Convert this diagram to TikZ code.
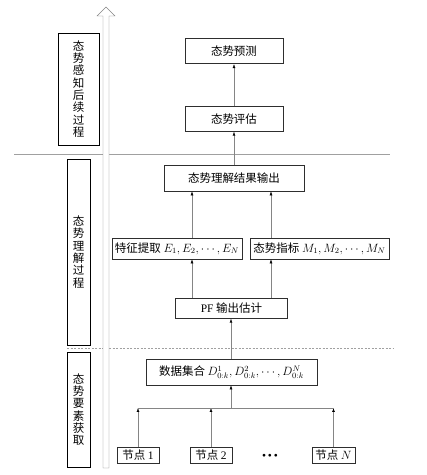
\documentclass[tikz,border=0pt]{standalone}
\usepackage{fontspec}
\setmainfont{Liberation Serif}
\newfontfamily\zhfont{Noto Sans CJK SC}
\usetikzlibrary{arrows.meta,positioning}
\definecolor{wire}{HTML}{858585}
\definecolor{frame}{HTML}{2E2E2E}
\definecolor{rule}{HTML}{A0A0A0}

\begin{document}
\begin{tikzpicture}[
  x=1pt, y=1pt,
  node distance=40pt,
  box/.style={draw=frame, semithick, align=center, inner sep=1pt,
              minimum height=25pt, font=\zhfont\fontsize{11.5}{12.3}\selectfont},
  tag/.style={box, draw=black, text width=12pt, minimum width=23pt},
  arr/.style={-{Latex[length=4pt,width=2.8pt,color=black]}, draw=wire},
  sep/.style={draw=rule, thin}
]
\useasboundingbox (0,0) rectangle (427,475);

% stage labels on the left
\node[tag, minimum width=41pt, minimum height=112pt] (after) at (78.5,386)
  {态\\势\\感\\知\\后\\续\\过\\程};
\node[tag, minimum height=186pt] (grasp) at (78.5,223)
  {态\\势\\理\\解\\过\\程};
\node[tag, minimum height=115pt] (gather) at (78.5,65.5)
  {态\\势\\要\\素\\获\\取};

% separators and the upward arrow
\draw[sep] (14,321) -- (390,321);
\draw[sep, dash pattern=on 2pt off 1.5pt] (67,127) -- (393,127);
\draw[wire, fill=white] (103,7) -- (103,459) -- (97,459) -- (106,468)
  -- (115,459) -- (109,459) -- (109,7) -- cycle;

% main column
\node[box, minimum width=171pt, minimum height=26pt] (data) at (231.5,103)
  {数据集合 $D^1_{0:k}, D^2_{0:k}, \cdots, D^N_{0:k}$};
\node[box, minimum width=112pt, minimum height=20pt, above=40pt of data] (pf)
  {{\rmfamily PF} 输出估计};
\node[box, minimum width=130pt, minimum height=21pt] (feat) at (177,226.5)
  {特征提取 $E_1, E_2, \cdots, E_N$};
\node[box, minimum width=139pt, minimum height=21pt] (index) at (319.5,226.5)
  {态势指标 $M_1, M_2, \cdots, M_N$};
\node[box, minimum width=140pt, minimum height=26pt] (result) at (234,297)
  {态势理解结果输出};
\node[box, minimum width=98pt, above=33pt of result] (eval) {态势评估};
\node[box, minimum width=98pt, above=42pt of eval] (pred) {态势预测};

% sensor nodes
\node[box, minimum width=42pt, minimum height=16pt] (n1) at (138,20) {节点 {\rmfamily 1}};
\node[box, minimum width=42pt, minimum height=16pt] (n2) at (211,20) {节点 {\rmfamily 2}};
\node[font=\fontsize{11.5}{12}\selectfont] (dots) at (270,18)
  {\textbullet\,\textbullet\,\textbullet};
\node[box, minimum width=43pt, minimum height=16pt] (nN) at (333.5,20) {节点 $N$};

% connectors
\coordinate (lane1) at (192,0);
\coordinate (lane2) at (271,0);
\coordinate (bus) at (231,67);
\foreach \n in {n1,n2,nN}
  \draw[arr] (\n.north) -- (\n.north |- bus);
\draw[wire] (n1.north |- bus) -- (nN.north |- bus);
\draw[arr] (bus) -- (data.south -| bus);
\draw[arr] (data.north -| bus) -- (pf.south -| bus);
\draw[arr] (pf.north -| lane1) -- (feat.south -| lane1);
\draw[arr] (pf.north -| lane2) -- (index.south -| lane2);
\draw[arr] (feat.north -| lane1) -- (result.south -| lane1);
\draw[arr] (index.north -| lane2) -- (result.south -| lane2);
\draw[arr] (result) -- (eval);
\draw[arr] (eval) -- (pred);
\end{tikzpicture}
\end{document}
